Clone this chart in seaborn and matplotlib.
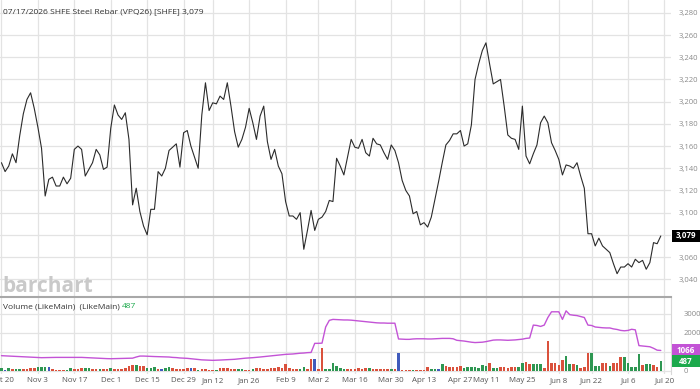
import numpy as np
import pandas as pd
import matplotlib.pyplot as plt
import seaborn as sns
from matplotlib.patches import Rectangle

# SHFE trading days, exchange holidays removed
holidays = ['2026-01-01', '2026-01-02', '2026-02-16', '2026-02-17', '2026-02-18',
            '2026-02-19', '2026-02-20', '2026-02-23', '2026-04-06', '2026-05-01',
            '2026-05-04', '2026-05-05', '2026-06-19']
days = pd.bdate_range('2025-10-20', '2026-07-17')
days = days[~days.isin(pd.to_datetime(holidays))]

tick_dates = ['2025-10-20', '2025-11-03', '2025-11-17', '2025-12-01', '2025-12-15',
              '2025-12-29', '2026-01-12', '2026-01-26', '2026-02-09', '2026-03-02',
              '2026-03-16', '2026-03-30', '2026-04-13', '2026-04-27', '2026-05-11',
              '2026-05-25', '2026-06-08', '2026-06-22', '2026-07-06', '2026-07-20']

price = [3145, 3137, 3142, 3153, 3145, 3169, 3189, 3202, 3208, 3194,
         3177, 3158, 3115, 3130, 3132, 3124, 3124, 3132, 3126, 3131,
         3157, 3160, 3157, 3133, 3139, 3145, 3157, 3152, 3139, 3141,
         3176, 3197, 3188, 3184, 3190, 3166, 3107, 3122, 3101, 3088,
         3080, 3103, 3103, 3137, 3133, 3140, 3156, 3159, 3162, 3141,
         3172, 3174, 3160, 3150, 3140, 3188, 3217, 3192, 3199, 3198,
         3205, 3202, 3217, 3196, 3173, 3159, 3166, 3177, 3194, 3181,
         3166, 3187, 3196, 3164, 3148, 3157, 3142, 3135, 3110, 3097,
         3097, 3094, 3100, 3067, 3084, 3102, 3084, 3094, 3096, 3101,
         3111, 3110, 3149, 3142, 3134, 3150, 3166, 3159, 3158, 3166,
         3154, 3151, 3167, 3162, 3161, 3154, 3148, 3161, 3156, 3145,
         3129, 3120, 3115, 3099, 3101, 3089, 3091, 3087, 3096, 3112,
         3128, 3145, 3161, 3165, 3171, 3171, 3174, 3160, 3162, 3179,
         3220, 3234, 3246, 3253, 3234, 3216, 3218, 3220, 3196, 3170,
         3167, 3166, 3157, 3196, 3151, 3144, 3153, 3161, 3181, 3187,
         3181, 3163, 3156, 3148, 3134, 3143, 3142, 3140, 3145, 3133,
         3122, 3081, 3081, 3070, 3077, 3070, 3067, 3064, 3054, 3045,
         3051, 3051, 3054, 3051, 3058, 3055, 3057, 3049, 3055, 3073,
         3072, 3079]

volume = [120, 60, 160, 70, 90, 100, 70, 110, 130, 160,
          180, 220, 220, 200, 80, 60, 50, 50, 50, 140,
          80, 90, 140, 130, 130, 110, 100, 110, 80, 80,
          150, 90, 80, 100, 130, 240, 300, 280, 240, 250,
          150, 150, 220, 110, 90, 150, 200, 120, 90, 70,
          110, 160, 150, 130, 60, 70, 70, 50, 50, 60,
          140, 140, 120, 90, 90, 100, 90, 60, 60, 90,
          150, 160, 110, 90, 120, 140, 220, 120, 330, 120,
          100, 80, 80, 170, 90, 610, 610, 100, 1200, 80,
          80, 420, 250, 120, 100, 80, 100, 80, 120, 80,
          130, 150, 100, 100, 90, 80, 80, 80, 80, 910,
          60, 60, 60, 40, 50, 60, 60, 200, 100, 80,
          100, 350, 230, 180, 180, 180, 270, 120, 180, 180,
          170, 140, 300, 250, 390, 150, 150, 180, 190, 120,
          180, 180, 170, 380, 480, 350, 350, 350, 350, 150,
          1560, 420, 420, 300, 560, 770, 350, 350, 300, 150,
          180, 910, 910, 250, 250, 400, 400, 250, 400, 400,
          700, 700, 400, 200, 200, 870, 300, 350, 350, 300,
          170, 487]

bar_kind = list('gbgrggrrrr' 'gggbrrrrgg' 'rrrggrrgrr' 'grrrrrrgrr'
                'gggrbggrrr' 'rrbrgrrrrg' 'rrrrrggrrg' 'rrrrrrrrrr'
                'rrggrrbrrg' 'gggggrrrrr' 'rgrrrrrgrb' 'rrrgrrrrgg'
                'bgrrrrrggg' 'ggggrggrrr' 'rrggrrgggr' 'rrrrrggrgr'
                'rrgggrrgrr' 'rgggggrggr' 'rg')
bar_kind = [{'g': 'up', 'r': 'down', 'b': 'flat'}[k] for k in bar_kind]

open_int = [790, 780, 770, 760, 750, 740, 730, 720, 710, 700,
            690, 685, 690, 690, 695, 700, 700, 700, 700, 700,
            700, 700, 700, 690, 680, 670, 660, 650, 640, 635,
            630, 635, 640, 645, 650, 650, 660, 720, 770, 770,
            760, 750, 745, 740, 735, 730, 720, 700, 690, 670,
            660, 650, 630, 610, 590, 570, 560, 550, 545, 550,
            560, 570, 580, 590, 600, 620, 640, 660, 670, 685,
            700, 720, 740, 760, 780, 800, 820, 840, 860, 870,
            880, 900, 920, 930, 950, 960, 1440, 1440, 1450, 2300,
            2650, 2700, 2690, 2680, 2670, 2670, 2660, 2640, 2620, 2600,
            2580, 2560, 2540, 2520, 2510, 2510, 2500, 2500, 2500, 1670,
            1660, 1650, 1650, 1670, 1680, 1680, 1680, 1670, 1670, 1680,
            1690, 1700, 1700, 1700, 1680, 1600, 1580, 1560, 1530, 1500,
            1480, 1490, 1500, 1530, 1570, 1610, 1620, 1620, 1610, 1600,
            1610, 1620, 1640, 1660, 1700, 1720, 2400, 2380, 2330, 2400,
            2800, 3100, 3100, 3100, 2700, 3150, 2950, 2920, 2900, 2850,
            2800, 2400, 2380, 2300, 2280, 2260, 2250, 2250, 2200, 2170,
            2120, 2100, 2120, 2180, 2150, 1320, 1300, 1280, 1260, 1180,
            1080, 1066]

x = np.arange(len(days))
tick_pos = [days.get_indexer([pd.Timestamp(d)])[0] if pd.Timestamp(d) in days else len(days)
            for d in tick_dates]
tick_lab = [pd.Timestamp(d).strftime('%b ') + str(pd.Timestamp(d).day) for d in tick_dates]

sns.set_style('white')
plt.rcParams['font.family'] = ['Open Sans', 'DejaVu Sans']

W, H = 700, 389
fig = plt.figure(figsize=(7, 3.89), dpi=100)
ax1 = fig.add_axes([0, 1 - 297 / H, 671 / W, 297 / H])
ax2 = fig.add_axes([0, 1 - 374 / H, 671 / W, 77 / H])

grid_c = '#e3e3e3'

# price panel
sns.lineplot(x=x, y=price, ax=ax1, color='#2b2b2b', linewidth=0.8)
ax1.set_xlim(-0.4, 183.8)
ax1.set_ylim(3024, 3291.6)
ax1.set_xticks(tick_pos)
p_ticks = list(range(3040, 3281, 20))
ax1.set_yticks(p_ticks)
# the 3,080 label sits under the last-price tag
ax1.set_yticklabels(['' if v == 3080 else f'{v:,}' for v in p_ticks])
ax1.yaxis.tick_right()
ax1.tick_params(axis='y', length=0, pad=5.5, labelsize=5.5, colors='#8a8a8a')
ax1.tick_params(axis='x', length=0, labelbottom=False)
ax1.grid(True, color=grid_c, linewidth=0.9)
for s in ax1.spines.values():
    s.set_visible(False)

# volume panel
sns.barplot(x=x, y=volume, hue=bar_kind, ax=ax2, native_scale=True, dodge=False,
            palette={'up': '#1ca94c', 'down': '#f43d22', 'flat': '#2b4fd1'},
            errorbar=None, legend=False)
for bar in ax2.patches:
    cx = bar.get_x() + bar.get_width() / 2
    bar.set_width(0.7)
    bar.set_x(cx - 0.35)
    bar.set_linewidth(0)
sns.lineplot(x=x, y=open_int, ax=ax2, color='#c353d6', linewidth=1.0)
ax2.set_xlim(-0.4, 183.8)
ax2.set_ylim(-174, 3879)
ax2.set_xticks(tick_pos)
ax2.set_xticklabels(tick_lab)
ax2.set_yticks([0, 1000, 2000, 3000])
ax2.set_yticklabels(['0', '', '2000', '3000'])
ax2.yaxis.tick_right()
ax2.tick_params(axis='y', length=0, pad=9, labelsize=5.5, colors='#8a8a8a')
ax2.tick_params(axis='x', length=0, pad=2.5, labelsize=5.7, colors='#555555')
ax2.grid(True, color=grid_c, linewidth=0.9)
for s in ax2.spines.values():
    s.set_visible(False)
ax2.spines['top'].set_visible(True)
ax2.spines['top'].set_color('#a8a8a8')
ax2.spines['top'].set_linewidth(1.5)
ax2.spines['right'].set_visible(True)
ax2.spines['right'].set_color('#d8d8d8')

# texts
fig.text(3 / W, 1 - 13 / H, '07/17/2026 SHFE Steel Rebar (VPQ26) [SHFE] 3,079',
         fontsize=6.1, color='#333333')
fig.text(2 / W, 1 - 292 / H, 'barchart', fontsize=15, color='#c9c9c9', fontweight='bold')
vt = fig.text(3 / W, 1 - 308 / H, 'Volume (LikeMain)  (LikeMain) ', fontsize=6.0, color='#333333')
fig.canvas.draw()
bb = vt.get_window_extent()
fig.text(bb.x1 / W, 1 - 308 / H, f'{volume[-1]}', fontsize=6.0, color='#1ca94c')


def tag(ax, value, text, fc):
    yp = ax.transData.transform((0, value))[1] / H
    fig.patches.append(Rectangle((672 / W, yp - 6 / H), 28 / W, 12 / H,
                                 transform=fig.transFigure, fc=fc, ec='none'))
    fig.text(686 / W, yp, text, ha='center', va='center', color='white',
             fontsize=5.8, fontweight='bold')


tag(ax1, price[-1], f'{price[-1]:,}', 'black')
tag(ax2, open_int[-1], f'{open_int[-1]}', '#c353d6')
tag(ax2, volume[-1], f'{volume[-1]}', '#1ca94c')

fig.savefig('out.png', dpi=100)
